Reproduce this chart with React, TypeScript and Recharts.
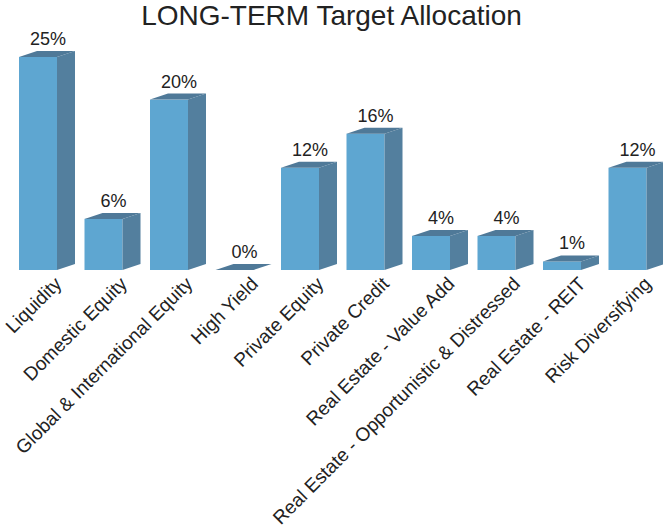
import { BarChart, Bar, XAxis, YAxis, LabelList } from 'recharts';

const categories = [
  'Liquidity',
  'Domestic Equity',
  'Global & International Equity',
  'High Yield',
  'Private Equity',
  'Private Credit',
  'Real Estate - Value Add',
  'Real Estate - Opportunistic & Distressed',
  'Real Estate - REIT',
  'Risk Diversifying',
];
const allocation = [25, 6, 20, 0, 12, 16, 4, 4, 1, 12];

const data = categories.map((name, i) => ({ name, value: allocation[i] }));

const FRONT = '#5ea6d1';
const SIDE = '#537f9e';
const TOP = '#4f7998';
const DEPTH_X = 18;
const DEPTH_Y = 6;
const FONT = '"Liberation Sans", Arial, sans-serif';

const Bar3D = (props: any) => {
  const { x, y, width, height } = props;
  const h = Math.max(height || 0, 0);
  const r = x + width;
  const b = y + h;
  return (
    <g>
      <rect x={x} y={y} width={width} height={h} fill={FRONT} />
      <polygon
        points={`${r},${y} ${r + DEPTH_X},${y - DEPTH_Y} ${r + DEPTH_X},${b - DEPTH_Y} ${r},${b}`}
        fill={SIDE}
      />
      <polygon
        points={`${x},${y} ${x + DEPTH_X},${y - DEPTH_Y} ${r + DEPTH_X},${y - DEPTH_Y} ${r},${y}`}
        fill={TOP}
      />
    </g>
  );
};

const ValueLabel = (props: any) => {
  const { x, y, width, value } = props;
  return (
    <text
      x={x + width / 2 + DEPTH_X / 2 + 1}
      y={y - 12}
      textAnchor="middle"
      fontSize={18}
      fontFamily={FONT}
      fill="#222"
    >
      {value}%
    </text>
  );
};

const Tick = (props: any) => {
  const { x, y, payload } = props;
  const ax = x + 25;
  const ay = y + 7;
  return (
    <text
      x={ax}
      y={ay}
      transform={`rotate(-45, ${ax}, ${ay})`}
      textAnchor="end"
      fontSize={19}
      fontFamily={FONT}
      fill="#222"
    >
      {payload.value}
    </text>
  );
};

export default function App() {
  return (
    <div style={{ position: 'absolute', left: 0, top: 0, width: 663, height: 529, background: '#fff' }}>
      <div
        style={{
          position: 'absolute',
          left: 0,
          top: 0,
          width: 663,
          textAlign: 'center',
          fontFamily: FONT,
          fontSize: 28,
          color: '#222',
        }}
      >
        LONG-TERM Target Allocation
      </div>
      <BarChart
        width={663}
        height={529}
        data={data}
        margin={{ top: 57, right: 3, bottom: 0, left: 5 }}
        barSize={38}
      >
        <YAxis hide domain={[0, 25]} />
        <XAxis
          dataKey="name"
          axisLine={false}
          tickLine={false}
          interval={0}
          height={259}
          tick={<Tick />}
        />
        <Bar dataKey="value" shape={<Bar3D />} isAnimationActive={false}>
          <LabelList dataKey="value" content={<ValueLabel />} />
        </Bar>
      </BarChart>
    </div>
  );
}
